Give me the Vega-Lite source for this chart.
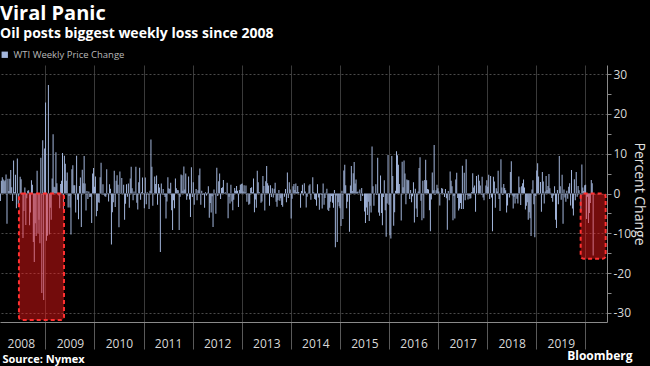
{
"$schema":"https://vega.github.io/schema/vega-lite/v6.json",
"width":607,"height":257,
"autosize":{"type":"none"},
"padding":{"left":0,"top":65,"right":43,"bottom":44},
"background":"#000000",
"title":{"text":"Viral Panic","subtitle":"Oil posts biggest weekly loss since 2008","anchor":"start","frame":"group","font":"Open Sans","fontSize":20,"fontWeight":"bold","color":"#ffffff","subtitleFont":"Open Sans","subtitleFontSize":14,"subtitleFontWeight":"bold","subtitleColor":"#ffffff","subtitlePadding":3,"offset":9},
"datasets":{
"wti":[
{"d":"2008-02-01","v":-1.9},{"d":"2008-02-08","v":3.2},{"d":"2008-02-15","v":4.1},{"d":"2008-02-22","v":3.5},{"d":"2008-02-29","v":3.1},{"d":"2008-03-07","v":3.3},{"d":"2008-03-14","v":4.8},{"d":"2008-03-21","v":-7.6},{"d":"2008-03-28","v":3.7},{"d":"2008-04-04","v":0.6},{"d":"2008-04-11","v":3.7},{"d":"2008-04-18","v":5.9},{"d":"2008-04-25","v":1.6},{"d":"2008-05-02","v":-1.9},{"d":"2008-05-09","v":8.3},{"d":"2008-05-16","v":0.3},{"d":"2008-05-23","v":4.7},{"d":"2008-05-30","v":-3.7},{"d":"2008-06-06","v":8.8},{"d":"2008-06-13","v":-2.7},{"d":"2008-06-20","v":-0.2},{"d":"2008-06-27","v":4.2},{"d":"2008-07-04","v":3.6},{"d":"2008-07-11","v":-0.1},{"d":"2008-07-18","v":-11.2},{"d":"2008-07-25","v":-4.4},{"d":"2008-08-01","v":1.5},{"d":"2008-08-08","v":-7.9},{"d":"2008-08-15","v":-1.2},{"d":"2008-08-22","v":0.7},{"d":"2008-08-29","v":0.8},{"d":"2008-09-05","v":-8.0},{"d":"2008-09-12","v":-4.8},{"d":"2008-09-19","v":3.3},{"d":"2008-09-26","v":2.2},{"d":"2008-10-03","v":-12.2},{"d":"2008-10-10","v":-17.2},{"d":"2008-10-17","v":-7.5},{"d":"2008-10-24","v":-10.7},{"d":"2008-10-31","v":5.7},{"d":"2008-11-07","v":-10.0},{"d":"2008-11-14","v":-6.6},{"d":"2008-11-21","v":-12.5},{"d":"2008-11-28","v":9.0},{"d":"2008-12-05","v":-25.0},{"d":"2008-12-12","v":13.4},{"d":"2008-12-19","v":-26.8},{"d":"2008-12-26","v":11.3},
{"d":"2009-01-02","v":22.9},{"d":"2009-01-09","v":-11.9},{"d":"2009-01-16","v":-10.6},{"d":"2009-01-23","v":27.3},{"d":"2009-01-30","v":-10.3},{"d":"2009-02-06","v":-3.6},{"d":"2009-02-13","v":-6.6},{"d":"2009-02-20","v":3.8},{"d":"2009-02-27","v":14.9},{"d":"2009-03-06","v":1.7},{"d":"2009-03-13","v":1.6},{"d":"2009-03-20","v":10.4},{"d":"2009-03-27","v":2.6},{"d":"2009-04-03","v":0.2},{"d":"2009-04-10","v":-0.5},{"d":"2009-04-17","v":-3.7},{"d":"2009-04-24","v":2.4},{"d":"2009-05-01","v":3.2},{"d":"2009-05-08","v":10.2},{"d":"2009-05-15","v":-3.9},{"d":"2009-05-22","v":9.5},{"d":"2009-05-29","v":7.5},{"d":"2009-06-05","v":3.2},{"d":"2009-06-12","v":5.3},{"d":"2009-06-19","v":-3.5},{"d":"2009-06-26","v":-0.6},{"d":"2009-07-03","v":-3.5},{"d":"2009-07-10","v":-10.3},{"d":"2009-07-17","v":6.1},{"d":"2009-07-24","v":7.1},{"d":"2009-07-31","v":2.1},{"d":"2009-08-07","v":2.1},{"d":"2009-08-14","v":-4.8},{"d":"2009-08-21","v":9.5},{"d":"2009-08-28","v":-1.6},{"d":"2009-09-04","v":-6.5},{"d":"2009-09-11","v":1.9},{"d":"2009-09-18","v":4.0},{"d":"2009-09-25","v":-8.4},{"d":"2009-10-02","v":6.0},{"d":"2009-10-09","v":2.6},{"d":"2009-10-16","v":9.4},{"d":"2009-10-23","v":2.5},{"d":"2009-10-30","v":-4.3},{"d":"2009-11-06","v":0.6},{"d":"2009-11-13","v":-1.4},{"d":"2009-11-20","v":0.5},{"d":"2009-11-27","v":-0.9},{"d":"2009-12-04","v":-0.8},{"d":"2009-12-11","v":-7.4},{"d":"2009-12-18","v":5.0},{"d":"2009-12-25","v":6.4},
{"d":"2010-01-01","v":1.7},{"d":"2010-01-08","v":4.3},{"d":"2010-01-15","v":-5.7},{"d":"2010-01-22","v":-4.4},{"d":"2010-01-29","v":-2.2},{"d":"2010-02-05","v":-2.3},{"d":"2010-02-12","v":4.1},{"d":"2010-02-19","v":7.7},{"d":"2010-02-26","v":-0.2},{"d":"2010-03-05","v":2.3},{"d":"2010-03-12","v":-0.3},{"d":"2010-03-19","v":-0.7},{"d":"2010-03-26","v":-0.8},{"d":"2010-04-02","v":6.1},{"d":"2010-04-09","v":0.1},{"d":"2010-04-16","v":-2.0},{"d":"2010-04-23","v":2.3},{"d":"2010-04-30","v":1.2},{"d":"2010-05-07","v":-12.8},{"d":"2010-05-14","v":-4.7},{"d":"2010-05-21","v":-2.2},{"d":"2010-05-28","v":5.7},{"d":"2010-06-04","v":-3.4},{"d":"2010-06-11","v":3.2},{"d":"2010-06-18","v":4.6},{"d":"2010-06-25","v":2.2},{"d":"2010-07-02","v":-8.5},{"d":"2010-07-09","v":5.5},{"d":"2010-07-16","v":-0.1},{"d":"2010-07-23","v":3.9},{"d":"2010-07-30","v":0.1},{"d":"2010-08-06","v":2.2},{"d":"2010-08-13","v":-6.6},{"d":"2010-08-20","v":-2.6},{"d":"2010-08-27","v":2.3},{"d":"2010-09-03","v":-0.8},{"d":"2010-09-10","v":2.5},{"d":"2010-09-17","v":-3.6},{"d":"2010-09-24","v":3.8},{"d":"2010-10-01","v":6.7},{"d":"2010-10-08","v":1.3},{"d":"2010-10-15","v":-1.7},{"d":"2010-10-22","v":0.5},{"d":"2010-10-29","v":-0.3},{"d":"2010-11-05","v":6.7},{"d":"2010-11-12","v":-2.3},{"d":"2010-11-19","v":-4.0},{"d":"2010-11-26","v":2.8},{"d":"2010-12-03","v":6.5},{"d":"2010-12-10","v":-1.6},{"d":"2010-12-17","v":0.3},{"d":"2010-12-24","v":4.0},{"d":"2010-12-31","v":-0.1},
{"d":"2011-01-07","v":-3.7},{"d":"2011-01-14","v":4.0},{"d":"2011-01-21","v":-2.7},{"d":"2011-01-28","v":0.3},{"d":"2011-02-04","v":-0.3},{"d":"2011-02-11","v":-3.9},{"d":"2011-02-18","v":0.7},{"d":"2011-02-25","v":13.6},{"d":"2011-03-04","v":6.7},{"d":"2011-03-11","v":-3.1},{"d":"2011-03-18","v":-0.1},{"d":"2011-03-25","v":4.3},{"d":"2011-04-01","v":2.4},{"d":"2011-04-08","v":4.5},{"d":"2011-04-15","v":-2.8},{"d":"2011-04-22","v":2.4},{"d":"2011-04-29","v":1.5},{"d":"2011-05-06","v":-14.7},{"d":"2011-05-13","v":2.5},{"d":"2011-05-20","v":-0.2},{"d":"2011-05-27","v":1.1},{"d":"2011-06-03","v":-0.4},{"d":"2011-06-10","v":-0.9},{"d":"2011-06-17","v":-6.3},{"d":"2011-06-24","v":-2.0},{"d":"2011-07-01","v":4.1},{"d":"2011-07-08","v":1.3},{"d":"2011-07-15","v":1.1},{"d":"2011-07-22","v":2.7},{"d":"2011-07-29","v":-4.2},{"d":"2011-08-05","v":-9.2},{"d":"2011-08-12","v":-1.7},{"d":"2011-08-19","v":-3.7},{"d":"2011-08-26","v":3.8},{"d":"2011-09-02","v":1.3},{"d":"2011-09-09","v":0.9},{"d":"2011-09-16","v":0.8},{"d":"2011-09-23","v":-9.2},{"d":"2011-09-30","v":-0.8},{"d":"2011-10-07","v":4.8},{"d":"2011-10-14","v":4.6},{"d":"2011-10-21","v":0.7},{"d":"2011-10-28","v":6.8},{"d":"2011-11-04","v":1.0},{"d":"2011-11-11","v":5.0},{"d":"2011-11-18","v":-1.6},{"d":"2011-11-25","v":-0.7},{"d":"2011-12-02","v":4.3},{"d":"2011-12-09","v":-1.5},{"d":"2011-12-16","v":-5.9},{"d":"2011-12-23","v":6.6},{"d":"2011-12-30","v":-0.9},
{"d":"2012-01-06","v":2.8},{"d":"2012-01-13","v":-2.8},{"d":"2012-01-20","v":-0.2},{"d":"2012-01-27","v":1.1},{"d":"2012-02-03","v":-1.7},{"d":"2012-02-10","v":0.8},{"d":"2012-02-17","v":4.6},{"d":"2012-02-24","v":6.3},{"d":"2012-03-02","v":-2.8},{"d":"2012-03-09","v":0.7},{"d":"2012-03-16","v":-0.3},{"d":"2012-03-23","v":-0.2},{"d":"2012-03-30","v":-3.6},{"d":"2012-04-06","v":0.3},{"d":"2012-04-13","v":-0.5},{"d":"2012-04-20","v":0.2},{"d":"2012-04-27","v":1.8},{"d":"2012-05-04","v":-6.1},{"d":"2012-05-11","v":-2.4},{"d":"2012-05-18","v":-4.8},{"d":"2012-05-25","v":-0.7},{"d":"2012-06-01","v":-8.4},{"d":"2012-06-08","v":1.0},{"d":"2012-06-15","v":-0.1},{"d":"2012-06-22","v":-5.1},{"d":"2012-06-29","v":6.5},{"d":"2012-07-06","v":-0.6},{"d":"2012-07-13","v":3.1},{"d":"2012-07-20","v":5.0},{"d":"2012-07-27","v":-1.4},{"d":"2012-08-03","v":1.4},{"d":"2012-08-10","v":1.6},{"d":"2012-08-17","v":3.4},{"d":"2012-08-24","v":0.1},{"d":"2012-08-31","v":0.3},{"d":"2012-09-07","v":-0.1},{"d":"2012-09-14","v":2.7},{"d":"2012-09-21","v":-6.2},{"d":"2012-09-28","v":-0.8},{"d":"2012-10-05","v":-2.5},{"d":"2012-10-12","v":2.2},{"d":"2012-10-19","v":-2.0},{"d":"2012-10-26","v":-4.2},{"d":"2012-11-02","v":-1.6},{"d":"2012-11-09","v":1.4},{"d":"2012-11-16","v":0.7},{"d":"2012-11-23","v":1.9},{"d":"2012-11-30","v":0.7},{"d":"2012-12-07","v":-3.4},{"d":"2012-12-14","v":0.9},{"d":"2012-12-21","v":2.2},{"d":"2012-12-28","v":2.4},
{"d":"2013-01-04","v":2.5},{"d":"2013-01-11","v":0.5},{"d":"2013-01-18","v":2.1},{"d":"2013-01-25","v":0.3},{"d":"2013-02-01","v":2.0},{"d":"2013-02-08","v":-2.1},{"d":"2013-02-15","v":0.1},{"d":"2013-02-22","v":-2.8},{"d":"2013-03-01","v":-2.6},{"d":"2013-03-08","v":1.4},{"d":"2013-03-15","v":1.6},{"d":"2013-03-22","v":0.3},{"d":"2013-03-29","v":3.8},{"d":"2013-04-05","v":-4.7},{"d":"2013-04-12","v":-1.5},{"d":"2013-04-19","v":-3.6},{"d":"2013-04-26","v":5.7},{"d":"2013-05-03","v":2.8},{"d":"2013-05-10","v":0.4},{"d":"2013-05-17","v":0.0},{"d":"2013-05-24","v":-2.3},{"d":"2013-05-31","v":-2.0},{"d":"2013-06-07","v":4.4},{"d":"2013-06-14","v":1.9},{"d":"2013-06-21","v":-4.3},{"d":"2013-06-28","v":3.1},{"d":"2013-07-05","v":6.9},{"d":"2013-07-12","v":2.6},{"d":"2013-07-19","v":2.0},{"d":"2013-07-26","v":-3.1},{"d":"2013-08-02","v":2.1},{"d":"2013-08-09","v":-0.9},{"d":"2013-08-16","v":1.3},{"d":"2013-08-23","v":-1.0},{"d":"2013-08-30","v":1.2},{"d":"2013-09-06","v":2.7},{"d":"2013-09-13","v":-2.1},{"d":"2013-09-20","v":-3.3},{"d":"2013-09-27","v":-1.7},{"d":"2013-10-04","v":0.9},{"d":"2013-10-11","v":-1.8},{"d":"2013-10-18","v":-1.2},{"d":"2013-10-25","v":-2.9},{"d":"2013-11-01","v":-3.3},{"d":"2013-11-08","v":0.0},{"d":"2013-11-15","v":-0.8},{"d":"2013-11-22","v":1.1},{"d":"2013-11-29","v":-2.2},{"d":"2013-12-06","v":5.3},{"d":"2013-12-13","v":-1.1},{"d":"2013-12-20","v":2.8},{"d":"2013-12-27","v":1.0},
{"d":"2014-01-03","v":-6.3},{"d":"2014-01-10","v":-1.3},{"d":"2014-01-17","v":1.8},{"d":"2014-01-24","v":2.4},{"d":"2014-01-31","v":0.9},{"d":"2014-02-07","v":2.5},{"d":"2014-02-14","v":0.4},{"d":"2014-02-21","v":1.9},{"d":"2014-02-28","v":0.4},{"d":"2014-03-07","v":0.0},{"d":"2014-03-14","v":-3.6},{"d":"2014-03-21","v":0.6},{"d":"2014-03-28","v":2.2},{"d":"2014-04-04","v":-0.5},{"d":"2014-04-11","v":2.6},{"d":"2014-04-18","v":0.5},{"d":"2014-04-25","v":-3.5},{"d":"2014-05-02","v":-0.8},{"d":"2014-05-09","v":0.2},{"d":"2014-05-16","v":2.0},{"d":"2014-05-23","v":2.3},{"d":"2014-05-30","v":-1.6},{"d":"2014-06-06","v":0.0},{"d":"2014-06-13","v":4.1},{"d":"2014-06-20","v":0.3},{"d":"2014-06-27","v":-1.4},{"d":"2014-07-04","v":-1.6},{"d":"2014-07-11","v":-3.1},{"d":"2014-07-18","v":2.3},{"d":"2014-07-25","v":-1.0},{"d":"2014-08-01","v":-4.1},{"d":"2014-08-08","v":-0.2},{"d":"2014-08-15","v":-0.3},{"d":"2014-08-22","v":-3.8},{"d":"2014-08-29","v":2.5},{"d":"2014-09-05","v":-2.8},{"d":"2014-09-12","v":-1.1},{"d":"2014-09-19","v":0.2},{"d":"2014-09-26","v":1.2},{"d":"2014-10-03","v":-4.1},{"d":"2014-10-10","v":-4.4},{"d":"2014-10-17","v":-3.6},{"d":"2014-10-24","v":-2.1},{"d":"2014-10-31","v":-0.6},{"d":"2014-11-07","v":-2.3},{"d":"2014-11-14","v":-3.6},{"d":"2014-11-21","v":0.9},{"d":"2014-11-28","v":-13.5},{"d":"2014-12-05","v":-0.5},{"d":"2014-12-12","v":-12.2},{"d":"2014-12-19","v":-2.2},{"d":"2014-12-26","v":-3.2},
{"d":"2015-01-02","v":-3.7},{"d":"2015-01-09","v":-8.2},{"d":"2015-01-16","v":0.7},{"d":"2015-01-23","v":-6.4},{"d":"2015-01-30","v":5.8},{"d":"2015-02-06","v":7.2},{"d":"2015-02-13","v":2.1},{"d":"2015-02-20","v":-3.7},{"d":"2015-02-27","v":-2.1},{"d":"2015-03-06","v":-0.3},{"d":"2015-03-13","v":-9.6},{"d":"2015-03-20","v":2.0},{"d":"2015-03-27","v":6.9},{"d":"2015-04-03","v":0.6},{"d":"2015-04-10","v":5.1},{"d":"2015-04-17","v":7.9},{"d":"2015-04-24","v":2.5},{"d":"2015-05-01","v":3.5},{"d":"2015-05-08","v":0.4},{"d":"2015-05-15","v":0.5},{"d":"2015-05-22","v":0.0},{"d":"2015-05-29","v":1.0},{"d":"2015-06-05","v":-1.9},{"d":"2015-06-12","v":1.4},{"d":"2015-06-19","v":-0.6},{"d":"2015-06-26","v":0.0},{"d":"2015-07-03","v":-4.5},{"d":"2015-07-10","v":-7.4},{"d":"2015-07-17","v":-3.5},{"d":"2015-07-24","v":-5.4},{"d":"2015-07-31","v":-2.1},{"d":"2015-08-07","v":-6.9},{"d":"2015-08-14","v":-3.1},{"d":"2015-08-21","v":-4.8},{"d":"2015-08-28","v":11.8},{"d":"2015-09-04","v":1.8},{"d":"2015-09-11","v":-3.1},{"d":"2015-09-18","v":0.1},{"d":"2015-09-25","v":2.3},{"d":"2015-10-02","v":-0.4},{"d":"2015-10-09","v":9.0},{"d":"2015-10-16","v":-4.8},{"d":"2015-10-23","v":-5.6},{"d":"2015-10-30","v":4.5},{"d":"2015-11-06","v":-4.9},{"d":"2015-11-13","v":-8.0},{"d":"2015-11-20","v":-0.9},{"d":"2015-11-27","v":3.3},{"d":"2015-12-04","v":-4.2},{"d":"2015-12-11","v":-10.9},{"d":"2015-12-18","v":-2.5},{"d":"2015-12-25","v":9.7},
{"d":"2016-01-01","v":-2.8},{"d":"2016-01-08","v":-10.5},{"d":"2016-01-15","v":-11.3},{"d":"2016-01-22","v":9.4},{"d":"2016-01-29","v":4.4},{"d":"2016-02-05","v":-8.1},{"d":"2016-02-12","v":-4.7},{"d":"2016-02-19","v":0.7},{"d":"2016-02-26","v":10.6},{"d":"2016-03-04","v":9.6},{"d":"2016-03-11","v":7.2},{"d":"2016-03-18","v":2.4},{"d":"2016-03-25","v":0.0},{"d":"2016-04-01","v":-6.8},{"d":"2016-04-08","v":8.0},{"d":"2016-04-15","v":1.6},{"d":"2016-04-22","v":8.3},{"d":"2016-04-29","v":5.0},{"d":"2016-05-06","v":-2.7},{"d":"2016-05-13","v":3.5},{"d":"2016-05-20","v":3.3},{"d":"2016-05-27","v":3.3},{"d":"2016-06-03","v":-1.4},{"d":"2016-06-10","v":0.9},{"d":"2016-06-17","v":-2.2},{"d":"2016-06-24","v":-0.7},{"d":"2016-07-01","v":2.8},{"d":"2016-07-08","v":-7.3},{"d":"2016-07-15","v":1.2},{"d":"2016-07-22","v":-3.8},{"d":"2016-07-29","v":-5.9},{"d":"2016-08-05","v":0.5},{"d":"2016-08-12","v":6.4},{"d":"2016-08-19","v":9.1},{"d":"2016-08-26","v":-1.8},{"d":"2016-09-02","v":-6.7},{"d":"2016-09-09","v":3.2},{"d":"2016-09-16","v":-6.2},{"d":"2016-09-23","v":3.4},{"d":"2016-09-30","v":8.5},{"d":"2016-10-07","v":3.3},{"d":"2016-10-14","v":1.1},{"d":"2016-10-21","v":1.0},{"d":"2016-10-28","v":-4.2},{"d":"2016-11-04","v":-9.5},{"d":"2016-11-11","v":-1.5},{"d":"2016-11-18","v":5.3},{"d":"2016-11-25","v":0.8},{"d":"2016-12-02","v":12.2},{"d":"2016-12-09","v":-0.3},{"d":"2016-12-16","v":0.8},{"d":"2016-12-23","v":2.2},{"d":"2016-12-30","v":1.3},
{"d":"2017-01-06","v":0.5},{"d":"2017-01-13","v":-3.0},{"d":"2017-01-20","v":0.1},{"d":"2017-01-27","v":1.4},{"d":"2017-02-03","v":1.2},{"d":"2017-02-10","v":0.1},{"d":"2017-02-17","v":-0.9},{"d":"2017-02-24","v":1.1},{"d":"2017-03-03","v":-1.2},{"d":"2017-03-10","v":-9.1},{"d":"2017-03-17","v":0.6},{"d":"2017-03-24","v":-1.7},{"d":"2017-03-31","v":5.5},{"d":"2017-04-07","v":3.2},{"d":"2017-04-14","v":1.8},{"d":"2017-04-21","v":-6.7},{"d":"2017-04-28","v":-0.6},{"d":"2017-05-05","v":-6.3},{"d":"2017-05-12","v":3.5},{"d":"2017-05-19","v":5.2},{"d":"2017-05-26","v":-1.1},{"d":"2017-06-02","v":-4.3},{"d":"2017-06-09","v":-3.8},{"d":"2017-06-16","v":-2.4},{"d":"2017-06-23","v":-3.9},{"d":"2017-06-30","v":7.0},{"d":"2017-07-07","v":-3.9},{"d":"2017-07-14","v":5.2},{"d":"2017-07-21","v":-1.7},{"d":"2017-07-28","v":8.6},{"d":"2017-08-04","v":-0.3},{"d":"2017-08-11","v":-1.5},{"d":"2017-08-18","v":-0.6},{"d":"2017-08-25","v":-1.3},{"d":"2017-09-01","v":-1.2},{"d":"2017-09-08","v":0.4},{"d":"2017-09-15","v":5.1},{"d":"2017-09-22","v":1.5},{"d":"2017-09-29","v":2.0},{"d":"2017-10-06","v":-4.6},{"d":"2017-10-13","v":4.4},{"d":"2017-10-20","v":0.0},{"d":"2017-10-27","v":4.7},{"d":"2017-11-03","v":3.2},{"d":"2017-11-10","v":2.0},{"d":"2017-11-17","v":-0.3},{"d":"2017-11-24","v":4.2},{"d":"2017-12-01","v":-1.0},{"d":"2017-12-08","v":-1.7},{"d":"2017-12-15","v":-0.1},{"d":"2017-12-22","v":2.0},{"d":"2017-12-29","v":3.3},
{"d":"2018-01-05","v":1.7},{"d":"2018-01-12","v":4.7},{"d":"2018-01-19","v":-1.4},{"d":"2018-01-26","v":4.4},{"d":"2018-02-02","v":-1.0},{"d":"2018-02-09","v":-9.5},{"d":"2018-02-16","v":4.2},{"d":"2018-02-23","v":3.0},{"d":"2018-03-02","v":-3.6},{"d":"2018-03-09","v":1.3},{"d":"2018-03-16","v":0.5},{"d":"2018-03-23","v":5.7},{"d":"2018-03-30","v":-1.4},{"d":"2018-04-06","v":-4.4},{"d":"2018-04-13","v":8.6},{"d":"2018-04-20","v":1.5},{"d":"2018-04-27","v":-0.4},{"d":"2018-05-04","v":2.4},{"d":"2018-05-11","v":1.4},{"d":"2018-05-18","v":0.8},{"d":"2018-05-25","v":-4.8},{"d":"2018-06-01","v":-3.0},{"d":"2018-06-08","v":-0.1},{"d":"2018-06-15","v":-1.0},{"d":"2018-06-22","v":5.4},{"d":"2018-06-29","v":8.1},{"d":"2018-07-06","v":-0.5},{"d":"2018-07-13","v":-3.8},{"d":"2018-07-20","v":-0.8},{"d":"2018-07-27","v":-2.5},{"d":"2018-08-03","v":-0.3},{"d":"2018-08-10","v":-1.3},{"d":"2018-08-17","v":-2.5},{"d":"2018-08-24","v":4.3},{"d":"2018-08-31","v":1.6},{"d":"2018-09-07","v":-2.9},{"d":"2018-09-14","v":1.8},{"d":"2018-09-21","v":2.6},{"d":"2018-09-28","v":3.5},{"d":"2018-10-05","v":1.5},{"d":"2018-10-12","v":-4.0},{"d":"2018-10-19","v":-3.1},{"d":"2018-10-26","v":-2.2},{"d":"2018-11-02","v":-6.6},{"d":"2018-11-09","v":-4.7},{"d":"2018-11-16","v":-6.2},{"d":"2018-11-23","v":-10.7},{"d":"2018-11-30","v":1.0},{"d":"2018-12-07","v":3.3},{"d":"2018-12-14","v":-2.7},{"d":"2018-12-21","v":-11.0},{"d":"2018-12-28","v":-0.6},
{"d":"2019-01-04","v":5.8},{"d":"2019-01-11","v":7.6},{"d":"2019-01-18","v":4.3},{"d":"2019-01-25","v":-0.2},{"d":"2019-02-01","v":2.9},{"d":"2019-02-08","v":-4.6},{"d":"2019-02-15","v":5.4},{"d":"2019-02-22","v":3.0},{"d":"2019-03-01","v":-2.5},{"d":"2019-03-08","v":0.5},{"d":"2019-03-15","v":4.4},{"d":"2019-03-22","v":0.9},{"d":"2019-03-29","v":1.9},{"d":"2019-04-05","v":4.9},{"d":"2019-04-12","v":1.3},{"d":"2019-04-19","v":0.2},{"d":"2019-04-26","v":-1.1},{"d":"2019-05-03","v":-2.1},{"d":"2019-05-10","v":-0.5},{"d":"2019-05-17","v":1.8},{"d":"2019-05-24","v":-6.6},{"d":"2019-05-31","v":-8.7},{"d":"2019-06-07","v":0.9},{"d":"2019-06-14","v":-2.7},{"d":"2019-06-21","v":9.4},{"d":"2019-06-28","v":1.8},{"d":"2019-07-05","v":-1.6},{"d":"2019-07-12","v":4.7},{"d":"2019-07-19","v":-7.6},{"d":"2019-07-26","v":1.0},{"d":"2019-08-02","v":-1.0},{"d":"2019-08-09","v":-2.1},{"d":"2019-08-16","v":0.7},{"d":"2019-08-23","v":-1.3},{"d":"2019-08-30","v":1.7},{"d":"2019-09-06","v":2.6},{"d":"2019-09-13","v":-3.0},{"d":"2019-09-20","v":5.9},{"d":"2019-09-27","v":-3.8},{"d":"2019-10-04","v":-5.5},{"d":"2019-10-11","v":3.6},{"d":"2019-10-18","v":-1.7},{"d":"2019-10-25","v":5.4},{"d":"2019-11-01","v":-0.8},{"d":"2019-11-08","v":1.9},{"d":"2019-11-15","v":0.8},{"d":"2019-11-22","v":0.1},{"d":"2019-11-29","v":-4.5},{"d":"2019-12-06","v":7.3},{"d":"2019-12-13","v":1.5},{"d":"2019-12-20","v":0.6},{"d":"2019-12-27","v":2.1},
{"d":"2020-01-03","v":2.2},{"d":"2020-01-10","v":-6.4},{"d":"2020-01-17","v":-0.8},{"d":"2020-01-24","v":-7.4},{"d":"2020-01-31","v":-4.9},{"d":"2020-02-07","v":-2.4},{"d":"2020-02-14","v":3.4},{"d":"2020-02-21","v":2.6},{"d":"2020-02-28","v":-15.6}
],
"zones":[{"s":"2008-06-18","e":"2009-05-19","lo":-31.8,"hi":0},{"s":"2019-11-27","e":"2020-05-31","lo":-16.4,"hi":0}]
},
"layer":[
{"data":{"name":"wti"},
 "mark":{"type":"bar","size":1},
 "encoding":{
  "x":{"field":"d","type":"temporal",
   "scale":{"domain":[{"year":2008,"month":1,"date":29,"utc":true},{"year":2020,"month":6,"date":10,"utc":true}],"nice":false,"padding":0},
   "axis":{"orient":"bottom","values":[{"year":2009,"month":1,"date":1,"utc":true},{"year":2010,"month":1,"date":1,"utc":true},{"year":2011,"month":1,"date":1,"utc":true},{"year":2012,"month":1,"date":1,"utc":true},{"year":2013,"month":1,"date":1,"utc":true},{"year":2014,"month":1,"date":1,"utc":true},{"year":2015,"month":1,"date":1,"utc":true},{"year":2016,"month":1,"date":1,"utc":true},{"year":2017,"month":1,"date":1,"utc":true},{"year":2018,"month":1,"date":1,"utc":true},{"year":2019,"month":1,"date":1,"utc":true},{"year":2020,"month":1,"date":1,"utc":true}],
    "labels":false,"ticks":true,"tickSize":27,"tickColor":"#5a5a5a","tickWidth":1,
    "grid":true,"gridColor":"#3a3a3a","gridWidth":1,
    "domain":true,"domainColor":"#8a8a8a",
    "title":"Bloomberg","titleX":632,"titleY":37.5,"titleAlign":"right","titleBaseline":"alphabetic","titleFont":"Open Sans","titleFontSize":12,"titleFontWeight":"bold","titleColor":"#ffffff"}},
  "y":{"field":"v","type":"quantitative",
   "scale":{"domain":[-32.3,32.3],"nice":false},
   "axis":{"orient":"right","values":[-30,-25,-20,-15,-10,-5,0,5,10,15,20,25,30],
    "labelExpr":"datum.value % 10 === 0 ? '' + datum.value : ''",
    "tickSize":4,"tickColor":"#8a8a8a","domainColor":"#8a8a8a",
    "labelColor":"#d8d8d8","labelFont":"Open Sans","labelFontSize":12,"labelPadding":2,
    "grid":true,"gridColor":{"condition":{"test":"datum.value % 10 !== 0","value":"transparent"},"value":"#4a4a4a"},"gridDash":[2,2],
    "title":"Percent Change","titleFont":"Open Sans","titleFontSize":14,"titleFontWeight":"normal","titleColor":"#e0e0e0","titlePadding":1}},
  "color":{"datum":"WTI Weekly Price Change","type":"nominal","scale":{"range":["#a3b6dc"]},
   "legend":{"orient":"top","title":null,"symbolType":"square","symbolSize":40,"symbolStrokeWidth":0,"labelColor":"#b8b8b8","labelFont":"Open Sans","labelFontSize":9.5,"offset":5,"padding":0}}
 }},
{"data":{"name":"zones"},
 "mark":{"type":"rect","fill":"#ff1a1a","fillOpacity":0.45,"stroke":"#ff3030","strokeOpacity":1,"strokeWidth":2,"strokeDash":[4,3],"cornerRadius":3},
 "encoding":{
  "x":{"field":"s","type":"temporal",
   "axis":{"orient":"bottom","values":[{"year":2008,"month":7,"date":2,"utc":true},{"year":2009,"month":7,"date":2,"utc":true},{"year":2010,"month":7,"date":2,"utc":true},{"year":2011,"month":7,"date":2,"utc":true},{"year":2012,"month":7,"date":2,"utc":true},{"year":2013,"month":7,"date":2,"utc":true},{"year":2014,"month":7,"date":2,"utc":true},{"year":2015,"month":7,"date":2,"utc":true},{"year":2016,"month":7,"date":2,"utc":true},{"year":2017,"month":7,"date":2,"utc":true},{"year":2018,"month":7,"date":2,"utc":true},{"year":2019,"month":7,"date":2,"utc":true}],
    "format":"%Y","ticks":false,"tickSize":0,"domain":false,"grid":false,"labelOverlap":false,"labelFlush":false,
    "labelColor":"#d8d8d8","labelFont":"Open Sans","labelFontSize":12,"labelPadding":16,
    "title":"Source: Nymex","titleX":2,"titleY":40.5,"titleAlign":"left","titleBaseline":"alphabetic","titleFont":"Open Sans","titleFontSize":11,"titleFontWeight":"bold","titleColor":"#ffffff"}},
  "x2":{"field":"e"},
  "y":{"field":"hi","type":"quantitative","axis":null},
  "y2":{"field":"lo"}
 }}
],
"resolve":{"axis":{"x":"independent","y":"independent"}},
"config":{"view":{"stroke":null},"font":"Open Sans"}
}
